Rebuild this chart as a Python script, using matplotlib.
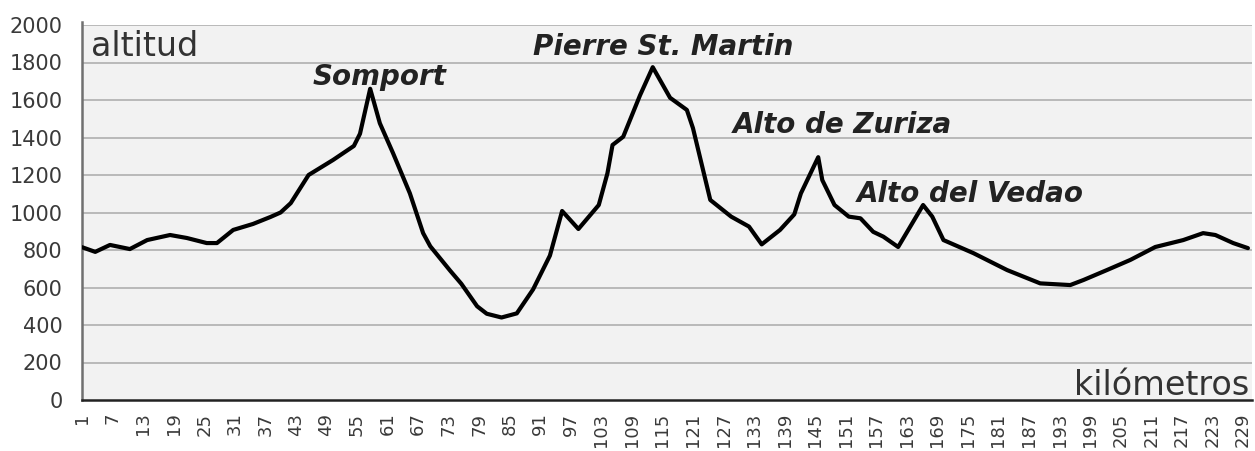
import matplotlib
matplotlib.use("Agg")
import matplotlib.pyplot as plt

# Elevation profile (km, altitude in m)
km = [1, 3.6, 6.5, 10.4, 13.8, 18.3, 21.6, 25.5, 27.5, 30.7, 34.6, 38, 40, 42,
      45.5, 50.3, 54.4, 55.6, 57.6, 59.5, 62.1, 65.4, 68, 69.4, 73.3, 75.5,
      78.6, 80.5, 83.4, 86.4, 89.6, 92.9, 95.3, 98.5, 102.5, 104.2, 105.2,
      107.3, 110.6, 113.1, 116.5, 119.8, 121, 124.4, 128.5, 132, 134.5, 138.1,
      140.9, 142.2, 145.6, 146.4, 148.8, 151.6, 153.9, 156.4, 158.4, 161.3,
      166.2, 168, 170.2, 176.1, 182.7, 189.2, 195.1, 197.7, 202.3, 206.9,
      211.8, 217.3, 221.2, 223.6, 227.1, 230]
alt = [815, 790, 827, 805, 853, 880, 864, 837, 837, 907, 939, 976, 1000, 1050,
       1200, 1280, 1355, 1420, 1660, 1476, 1316, 1102, 890, 820, 690, 620,
       500, 460, 440, 462, 590, 770, 1008, 912, 1040, 1209, 1360, 1404, 1625,
       1775, 1612, 1547, 1450, 1067, 978, 925, 830, 907, 990, 1102, 1295, 1173,
       1040, 978, 969, 897, 871, 816, 1040, 978, 853, 783, 693, 622, 613, 640,
       693, 747, 816, 853, 890, 880, 837, 810]

tick_km = list(range(1, 230, 6))
y_ticks = list(range(0, 2001, 200))

peaks = ["Somport", "Pierre St. Martin", "Alto de Zuriza", "Alto del Vedao"]
peak_label_pos = [(59.5, 1680), (115.1, 1840), (150.4, 1424), (175.4, 1056)]

fig = plt.figure(figsize=(12.55, 4.51), dpi=100)
fig.patch.set_facecolor("white")
ax = fig.add_axes([82 / 1255, 1 - 400 / 451, 1170 / 1255, 375 / 451])
ax.set_facecolor("#f2f2f2")

ax.set_xlim(1, 230.8)
ax.set_ylim(0, 2000)

for y in y_ticks[1:]:
    ax.axhline(y, color="#b4b4b4", lw=1.3, zorder=1)

ax.plot(km, alt, color="black", lw=3.0, solid_joinstyle="round",
        solid_capstyle="round", zorder=3)

ax.set_yticks(y_ticks)
ax.set_yticklabels([str(v) for v in y_ticks], fontsize=15, color="#3a3a3a")
ax.set_xticks(tick_km)
ax.set_xticklabels([str(v) for v in tick_km], rotation=90, fontsize=13,
                   color="#3a3a3a", va="top")
ax.tick_params(axis="both", length=0)
ax.tick_params(axis="y", pad=14)
ax.tick_params(axis="x", pad=9)

for s in ["top", "right"]:
    ax.spines[s].set_visible(False)
ax.spines["left"].set_color("#707070")
ax.spines["left"].set_linewidth(1.8)
ax.spines["left"].set_bounds(0, 2015)
ax.spines["bottom"].set_color("#222222")
ax.spines["bottom"].set_linewidth(1.8)
ax.set_clip_on(False)

ax.text(0.008, 0.917, "altitud", transform=ax.transAxes, fontsize=24,
        color="#333333", ha="left", va="baseline")
ax.text(0.998, 0.013, "kilómetros", transform=ax.transAxes, fontsize=24,
        color="#333333", ha="right", va="baseline")

for name, (px, py) in zip(peaks, peak_label_pos):
    ax.text(px, py, name, fontsize=20, fontweight="bold", fontstyle="italic",
            color="#222222", ha="center", va="baseline", zorder=4)

fig.savefig("out.png", dpi=100)
